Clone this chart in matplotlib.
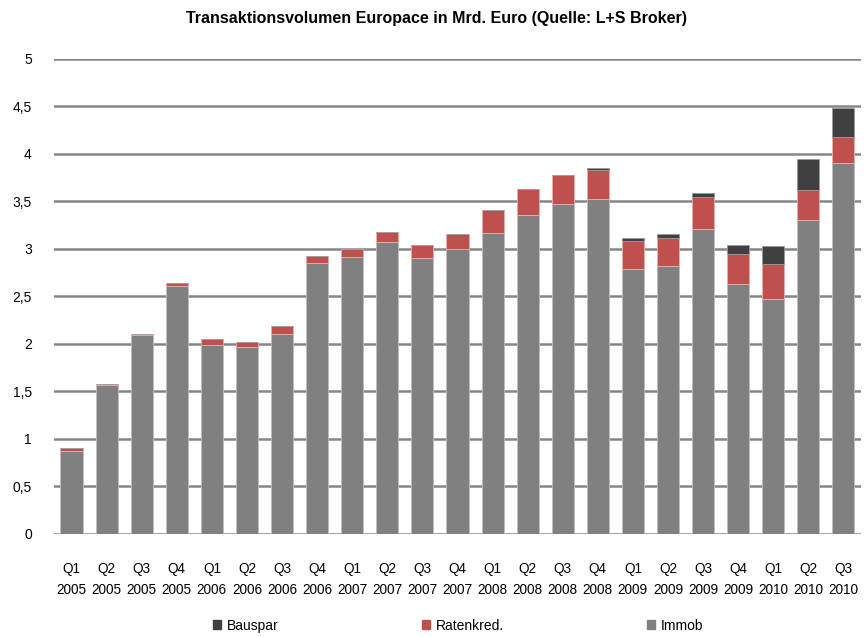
import numpy as np
import matplotlib.pyplot as plt
from matplotlib.patches import Patch

plt.rcParams['font.family'] = ['Liberation Sans', 'DejaVu Sans']

quarters = ['Q1', 'Q2', 'Q3', 'Q4'] * 5 + ['Q1', 'Q2', 'Q3']
years = ['2005'] * 4 + ['2006'] * 4 + ['2007'] * 4 + ['2008'] * 4 + ['2009'] * 4 + ['2010'] * 3
labels = [q + '\n' + y for q, y in zip(quarters, years)]

immob = [0.87, 1.565, 2.09, 2.61, 1.985, 1.965, 2.11, 2.85,
         2.915, 3.07, 2.90, 3.00, 3.17, 3.36, 3.47, 3.53,
         2.785, 2.82, 3.21, 2.63, 2.47, 3.30, 3.91]
ratenkred = [0.04, 0.015, 0.02, 0.03, 0.065, 0.055, 0.08, 0.08,
             0.09, 0.105, 0.145, 0.155, 0.24, 0.27, 0.305, 0.30,
             0.30, 0.30, 0.335, 0.315, 0.37, 0.32, 0.265]
bauspar = [0, 0, 0, 0, 0, 0, 0, 0,
           0, 0, 0, 0, 0, 0, 0, 0.02,
           0.03, 0.04, 0.045, 0.095, 0.195, 0.33, 0.305]

c_immob = '#808080'
c_raten = '#C0504D'
c_bausp = '#404040'

x = np.arange(len(labels))
immob = np.array(immob)
ratenkred = np.array(ratenkred)
bauspar = np.array(bauspar)

fig = plt.figure(figsize=(8.64, 6.37), dpi=100)
ax = fig.add_axes([0.0625, 0.1617, 0.934, 0.7457])

w = 0.63
ax.bar(x, immob, width=w, color=c_immob, edgecolor='#bfbfbf', linewidth=0.6, zorder=3)
ax.bar(x, ratenkred, width=w, bottom=immob, color=c_raten, edgecolor='#e6b0ae', linewidth=0.6, zorder=3)
ax.bar(x, bauspar, width=w, bottom=immob + ratenkred, color=c_bausp, edgecolor='#9a9a9a',
       linewidth=0.6, zorder=3)

ax.set_ylim(0, 5)
ax.set_xlim(-0.5, len(labels) - 0.5)
yt = np.arange(0, 5.01, 0.5)
ax.set_yticks(yt)
ax.set_yticklabels([('%g' % v).replace('.', ',') for v in yt], fontsize=10)
ax.set_xticks(x)
ax.set_xticklabels(labels, fontsize=9.8, linespacing=1.7)
ax.tick_params(length=0)
ax.tick_params(axis='x', pad=20)
ax.tick_params(axis='y', pad=16)
ax.yaxis.grid(True, color='#868686', linewidth=1.8, zorder=0)
for s in ax.spines.values():
    s.set_visible(False)

fig.suptitle('Transaktionsvolumen Europace in Mrd. Euro (Quelle: L+S Broker)',
             fontsize=11.5, fontweight='bold', x=0.505, y=0.983)

handles = [Patch(color=c_bausp, label='Bauspar'),
           Patch(color=c_raten, label='Ratenkred.'),
           Patch(color=c_immob, label='Immob')]
fig.legend(handles=handles, loc='center', bbox_to_anchor=(0.53, 0.018), ncol=3,
           frameon=False, fontsize=10, handlelength=0.6, handleheight=0.6,
           handletextpad=0.4, columnspacing=10.3)

fig.savefig('out.png', dpi=100)
